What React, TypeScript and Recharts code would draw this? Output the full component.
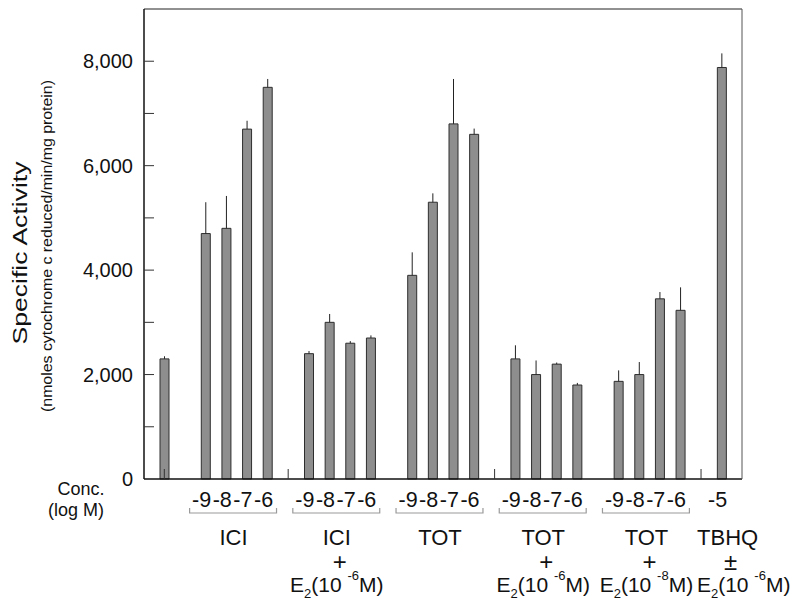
import React from "react";
import { BarChart, Bar, XAxis, YAxis, ErrorBar } from "recharts";

// one slot per category position on the x axis (empty slots are gaps)
const SLOT_IDS = [
  "ctl", "g1",
  "ici9", "ici8", "ici7", "ici6", "s1",
  "icie9", "icie8", "icie7", "icie6", "g2",
  "tot9", "tot8", "tot7", "tot6", "s2",
  "tote9", "tote8", "tote7", "tote6", "g3",
  "totf9", "totf8", "totf7", "totf6", "s3",
  "tbhq",
];
const CONC_LABELS = [
  "", "",
  "-9", "-8", "-7", "-6", "",
  "-9", "-8", "-7", "-6", "",
  "-9", "-8", "-7", "-6", "",
  "-9", "-8", "-7", "-6", "",
  "-9", "-8", "-7", "-6", "",
  "-5",
];
const ACTIVITY = [
  2300, null,
  4700, 4800, 6700, 7500, null,
  2400, 3000, 2600, 2700, null,
  3900, 5300, 6800, 6600, null,
  2300, 2000, 2200, 1800, null,
  1870, 2000, 3450, 3230, null,
  7880,
];
const ACTIVITY_ERR = [
  50, null,
  600, 620, 160, 160, null,
  50, 160, 40, 50, null,
  440, 170, 860, 110, null,
  260, 270, 30, 40, null,
  210, 240, 130, 440, null,
  270,
];
// slots that carry an inward x-axis tick mark
const X_TICK_SLOTS = [0, 6, 16, 26];

const Y_TICKS = [0, 1000, 2000, 3000, 4000, 5000, 6000, 7000, 8000, 9000];

const GROUP_START = [2, 7, 12, 17, 22, 27];
const GROUP_SIZE = [4, 4, 4, 4, 4, 1];
const GROUP_NAME = ["ICI", "ICI", "TOT", "TOT", "TOT", "TBHQ"];
const GROUP_PLUS = [null, "+", null, "+", "+", "±"];
const GROUP_E2_EXP = [null, "-6", null, "-6", "-8", "-6"];

const data = SLOT_IDS.map((id, i) => ({
  id,
  activity: ACTIVITY[i],
  err: ACTIVITY_ERR[i] == null ? null : [0, ACTIVITY_ERR[i]],
}));

const FONT = "'Liberation Sans', Arial, Helvetica, sans-serif";
const PLOT_LEFT = 144;
const PLOT_RIGHT = 742;
const X_PAD = 10;
const BAND = (PLOT_RIGHT - PLOT_LEFT - 2 * X_PAD) / SLOT_IDS.length;

function YTick(props: any) {
  const { x, y, payload } = props;
  const v = payload.value as number;
  return (
    <g>
      {v > 0 && v < 9000 && <line x1={x} x2={x + 10} y1={y} y2={y} stroke="#333" strokeWidth={1} />}
      {v % 2000 === 0 && (
        <text x={x - 11} y={y} dy={7} textAnchor="end" fontSize={20} fontFamily={FONT} fill="#111">
          {v.toLocaleString("en-US")}
        </text>
      )}
    </g>
  );
}

function E2Line({ x, y, exp }: { x: number; y: number; exp: string }) {
  return (
    <text x={x} y={y} textAnchor="middle" fontSize={21} fontFamily={FONT} fill="#111">
      <tspan>E</tspan>
      <tspan fontSize={13} dy={6}>2</tspan>
      <tspan dy={-6}>{"(10 "}</tspan>
      <tspan fontSize={13} dy={-12}>{exp}</tspan>
      <tspan dy={12}>M)</tspan>
    </text>
  );
}

function XTick(props: any) {
  const { x, y, payload } = props;
  const i = SLOT_IDS.indexOf(payload.value);
  const g = GROUP_START.indexOf(i);
  const items: React.ReactNode[] = [];
  if (X_TICK_SLOTS.includes(i)) {
    items.push(<line key="t" x1={x} x2={x} y1={y} y2={y - 10} stroke="#333" strokeWidth={1} />);
  }
  if (CONC_LABELS[i]) {
    items.push(
      <text key="c" x={x - 4} y={y + 28} textAnchor="middle" fontSize={21.5} fontFamily={FONT} fill="#111">
        {CONC_LABELS[i]}
      </text>
    );
  }
  if (g >= 0) {
    const span = (GROUP_SIZE[g] - 1) * BAND;
    const hasBracket = GROUP_SIZE[g] > 1;
    const cx = hasBracket ? x + span / 2 - 3 : x + 6;
    if (hasBracket) {
      const bx1 = x - 16;
      const bx2 = x + span + 9;
      items.push(
        <path
          key="b"
          d={`M${bx1},${y + 29} L${bx1},${y + 34} L${bx2},${y + 34} L${bx2},${y + 29}`}
          fill="none"
          stroke="#9a9a9a"
          strokeWidth={1.2}
        />
      );
    }
    items.push(
      <text key="n" x={cx} y={y + 66} textAnchor="middle" fontSize={22} fontFamily={FONT} fill="#111">
        {GROUP_NAME[g]}
      </text>
    );
    if (GROUP_PLUS[g]) {
      items.push(
        <text key="p" x={cx + 3} y={y + 91} textAnchor="middle" fontSize={24} fontFamily={FONT} fill="#111">
          {GROUP_PLUS[g]}
        </text>
      );
    }
    if (GROUP_E2_EXP[g]) {
      items.push(<E2Line key="e" x={hasBracket ? cx : cx + 16} y={y + 113} exp={GROUP_E2_EXP[g] as string} />);
    }
  }
  return <g>{items}</g>;
}

function Titles() {
  return (
    <g fontFamily={FONT} fill="#111">
      <text
        transform="translate(27,253) rotate(-90)"
        textAnchor="middle"
        fontSize={20}
        textLength={183}
        lengthAdjust="spacingAndGlyphs"
      >
        Specific Activity
      </text>
      <text
        transform="translate(52,246) rotate(-90)"
        textAnchor="middle"
        fontSize={14}
        textLength={332}
        lengthAdjust="spacingAndGlyphs"
      >
        (nmoles cytochrome c reduced/min/mg protein)
      </text>
      <text x={81} y={495} textAnchor="middle" fontSize={18}>Conc.</text>
      <text x={76} y={516} textAnchor="middle" fontSize={18}>(log M)</text>
    </g>
  );
}

export default function App() {
  return (
    <div style={{ position: "absolute", left: 0, top: 0, background: "#fff" }}>
      <BarChart
        width={795}
        height={605}
        data={data}
        margin={{ top: 8, right: 795 - PLOT_RIGHT - 1, bottom: 0, left: 0 }}
      >
        <XAxis
          xAxisId="main"
          dataKey="id"
          height={126}
          interval={0}
          padding={{ left: X_PAD, right: X_PAD }}
          tickSize={0}
          tickMargin={0}
          tickLine={false}
          tick={<XTick />}
          axisLine={{ stroke: "#111", strokeWidth: 1.5 }}
        />
        <XAxis
          xAxisId="top"
          dataKey="id"
          orientation="top"
          height={1}
          padding={{ left: X_PAD, right: X_PAD }}
          tick={false}
          tickLine={false}
          axisLine={{ stroke: "#222", strokeWidth: 1 }}
        />
        <YAxis
          yAxisId="main"
          width={PLOT_LEFT}
          domain={[0, 9000]}
          ticks={Y_TICKS}
          interval={0}
          tickSize={0}
          tickMargin={0}
          tickLine={false}
          tick={<YTick />}
          axisLine={{ stroke: "#111", strokeWidth: 1.5 }}
          label={<Titles />}
        />
        <YAxis
          yAxisId="right"
          orientation="right"
          width={1}
          domain={[0, 9000]}
          tick={false}
          tickLine={false}
          axisLine={{ stroke: "#555", strokeWidth: 1 }}
        />
        <Bar
          xAxisId="main"
          yAxisId="main"
          dataKey="activity"
          barSize={9}
          fill="#8e8e8e"
          stroke="#2e2e2e"
          strokeWidth={1}
          isAnimationActive={false}
        >
          <ErrorBar dataKey="err" direction="y" width={0} stroke="#222" strokeWidth={1} />
        </Bar>
      </BarChart>
    </div>
  );
}
